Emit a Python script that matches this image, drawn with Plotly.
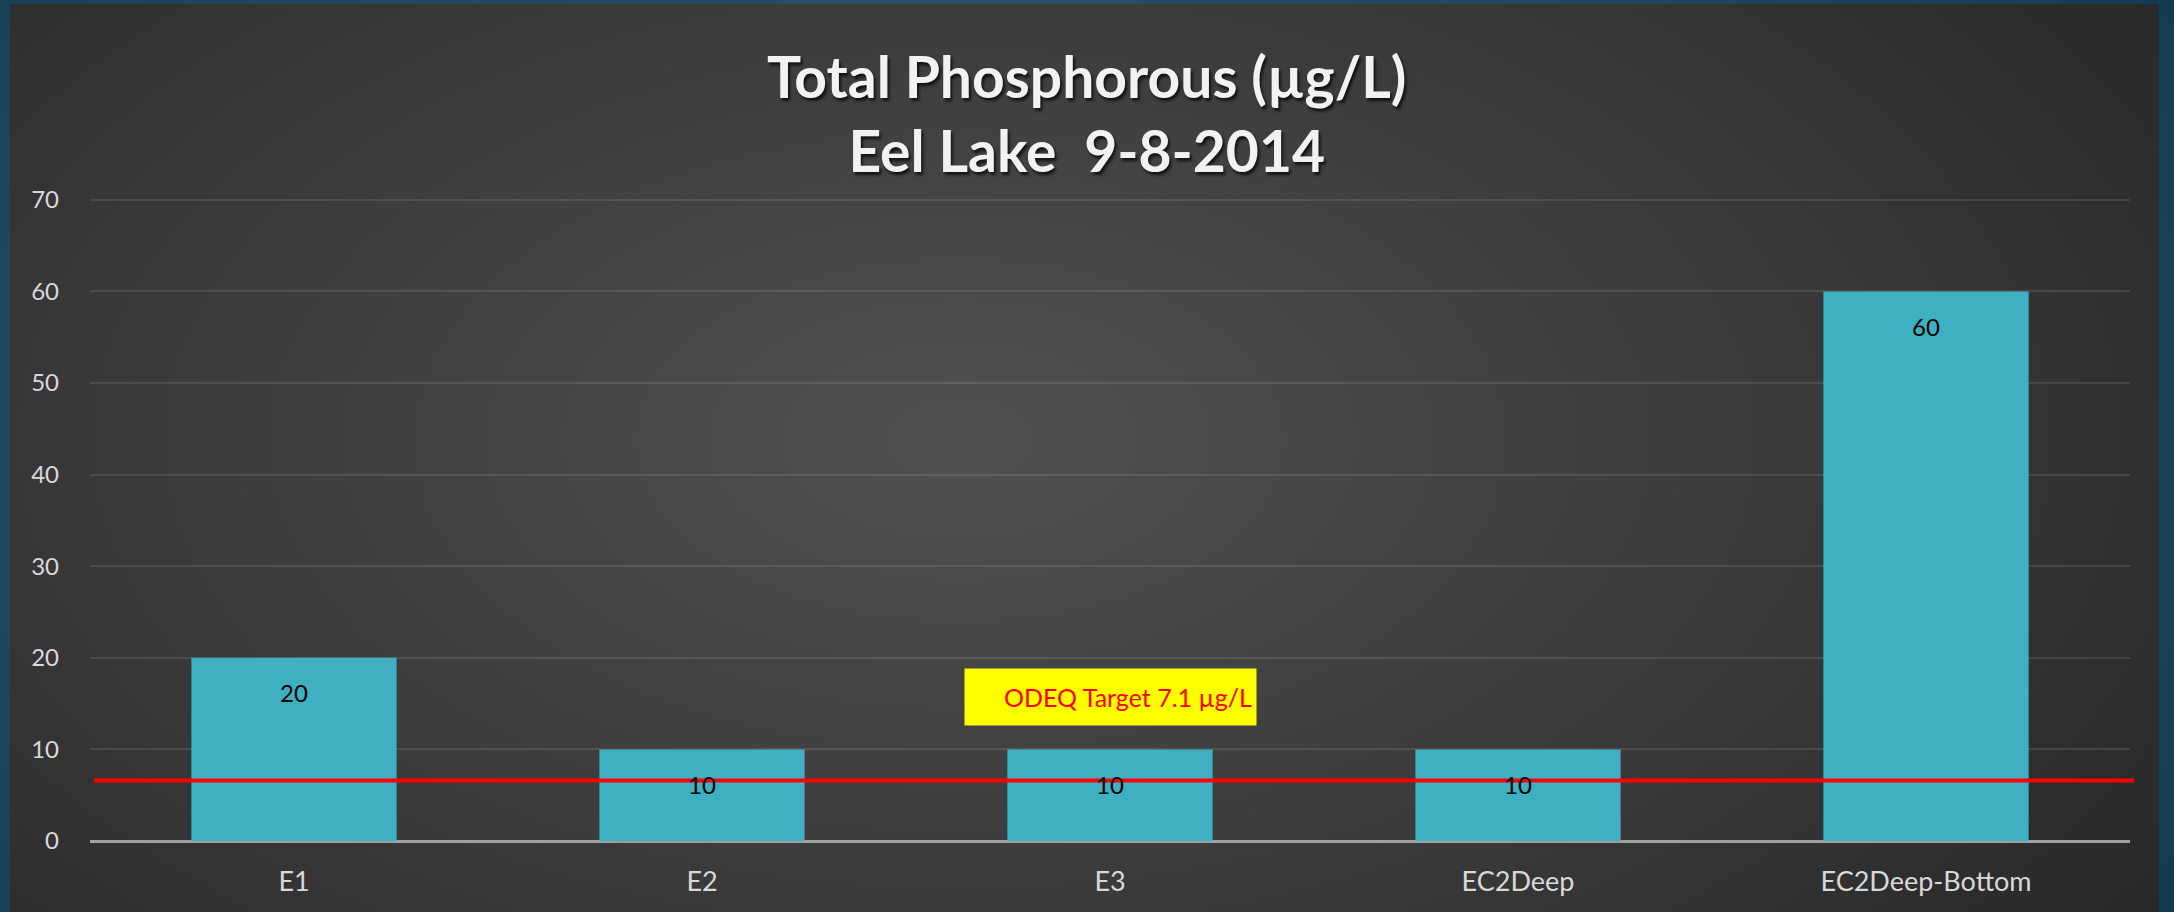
import plotly.graph_objects as go

# ---- data ----
categories = ["E1", "E2", "E3", "EC2Deep", "EC2Deep-Bottom"]
values = [20, 10, 10, 10, 60]
target_line_value = 6.6   # where the red target line sits in the picture
target_label = "ODEQ Target 7.1 µg/L"
target_label_y = 15.75
y_ticks = [0, 10, 20, 30, 40, 50, 60, 70]
title_lines = ["Total Phosphorous (µg/L)", "Eel Lake  9-8-2014"]

# ---- geometry ----
W, H = 2174, 912
L, R, T, B = 90, 44, 198, 71
PW, PH = W - L - R, H - T - B

def px(x):
    return (x - L) / PW

def py(y):
    return (H - B - y) / PH

FONT = "Lato"

fig = go.Figure()
fig.add_trace(go.Bar(
    x=categories, y=values, width=0.503,
    marker=dict(color="#3fb0c1", line=dict(width=0)),
    hoverinfo="skip",
))

shapes = []
# gray panel over the blue border
shapes.append(dict(type="rect", xref="paper", yref="paper",
                   x0=px(10), x1=px(2159), y0=py(920), y1=py(4),
                   fillcolor="#282828", line=dict(width=0), layer="below"))
# radial glow built from stacked translucent ellipses
cx, cy = 960, 440
N = 40
for k in range(N, 0, -1):
    f = k / N
    rx, ry = 1450 * f, 820 * f
    shapes.append(dict(type="circle", xref="paper", yref="paper",
                       x0=px(cx - rx), x1=px(cx + rx),
                       y0=py(cy + ry), y1=py(cy - ry),
                       fillcolor="rgba(255,255,255,0.0088)",
                       line=dict(width=0), layer="below"))
# red target line
shapes.append(dict(type="line", xref="paper", yref="y",
                   x0=px(94), x1=px(2134),
                   y0=target_line_value, y1=target_line_value,
                   line=dict(color="#ff0000", width=4), layer="above"))

annotations = []
# title
annotations.append(dict(
    text="<b>" + title_lines[0] + "</b><br><b>" + title_lines[1] + "</b>",
    xref="paper", yref="paper", x=px(1087), y=py(40), xanchor="center", yanchor="top",
    showarrow=False, align="center",
    font=dict(family=FONT, size=57, color="#f2f2f2",
              shadow="2px 3px 3px rgba(0,0,0,0.7)"),
))
# value labels
for c, v in zip(categories, values):
    annotations.append(dict(
        text=str(v), x=c, y=v, xref="x", yref="y", yshift=-35,
        showarrow=False, font=dict(family=FONT, size=24, color="#000000"),
    ))
# target label box
annotations.append(dict(
    text=target_label, x=categories[2], y=target_label_y, xref="x", yref="y",
    showarrow=False, bgcolor="#ffff00", width=283, height=48, borderpad=4,
    align="right", valign="middle",
    font=dict(family=FONT, size=25, color="#ff0000"),
))

fig.update_layout(
    width=W, height=H,
    margin=dict(l=L, r=R, t=T, b=B, pad=0),
    paper_bgcolor="#123a52",
    plot_bgcolor="rgba(0,0,0,0)",
    showlegend=False,
    bargap=0.5,
    shapes=shapes,
    annotations=annotations,
    xaxis=dict(
        showgrid=False, showline=False, zeroline=False,
        tickfont=dict(family=FONT, size=27, color="#d9d9d9"),
        ticks="", ticklabelstandoff=22, fixedrange=True,
    ),
    yaxis=dict(
        range=[0, 70.2], tickvals=y_ticks,
        showgrid=True, gridcolor="rgba(255,255,255,0.10)", gridwidth=2,
        zeroline=True, zerolinecolor="#a0a0a0", zerolinewidth=3,
        showline=False, ticks="", ticklabelstandoff=30,
        tickfont=dict(family=FONT, size=24, color="#d9d9d9"),
        fixedrange=True,
    ),
)

fig.write_html("out.html", config={"displayModeBar": False},
               post_script="document.body.style.margin='0';document.body.style.overflow='hidden';")
